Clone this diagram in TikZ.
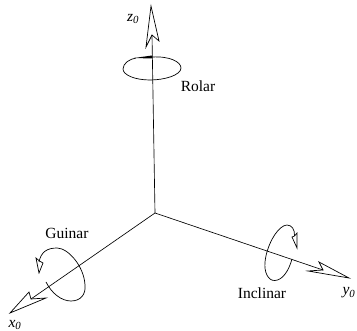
\documentclass[tikz,border=0pt]{standalone}
\usepackage{fontspec}
\setmainfont{Liberation Serif}
\newcommand{\axisname}[1]{\textit{#1}\textsubscript{\textit{0}}}
\tikzset{
  axisline/.style={line width=.65pt},
  turnline/.style={line width=.7pt},
  headline/.style={line width=.7pt,line join=miter},
  txt/.style={inner sep=0pt,font=\fontsize{15.5}{17}\selectfont},
  axistxt/.style={inner sep=0pt,font=\fontsize{15.5}{17}\selectfont},
}
\begin{document}
\begin{tikzpicture}[x=1pt,y=-1pt]
\useasboundingbox (0,0) rectangle (357,331);
\coordinate (o) at (155,213);
\coordinate (zn) at (152,35);
\coordinate (xn) at (31,299);
\coordinate (yn) at (323,270);
\draw[axisline] (o)--(zn);
\draw[axisline] (o)--(xn);
\draw[axisline] (o)--(yn);
% arrow heads
\draw[headline] (zn)--(146,47)--(151,6)--(159,41)--cycle;
\draw[headline] (xn)--(29,292)--(10,313)--(46,298)--cycle;
\draw[headline] (yn)--(319,262)--(349,278)--(308,271)--cycle;
% rotations
\draw[turnline] (152,57) .. controls (170,56) and (181,62) .. (181,68)
                  .. controls (181,75) and (165,80) .. (150,80)
                  .. controls (135,80) and (123,75) .. (123,69)
                  .. controls (123,63) and (130,59) .. (136,58);
\fill (134,58)--(152,55.5)--(152,58.5)--cycle;
\draw[turnline] (46,282) .. controls (52,294) and (62,301) .. (71,301)
                  .. controls (81,301) and (86,294) .. (85,285)
                  .. controls (84,266) and (68,248) .. (57,248)
                  .. controls (47,248) and (41,252) .. (39,262);
\draw[headline] (39,273)--(36,258)--(39.5,261)--(43,263)--cycle;
\draw[turnline] (292,259) .. controls (289,270) and (283,280) .. (275,280.5)
                  .. controls (268,281) and (264,272) .. (265,262)
                  .. controls (267,243) and (279,225) .. (287,225)
                  .. controls (292,225) and (295,230) .. (294.5,236);
\draw[headline] (297,248)--(292,237)--(294.5,236)--(297,233)--cycle;
% labels
\node[axistxt] (zlabel) at (133,19) {\axisname{z}};
\node[axistxt] (xlabel) at (15,325) {\axisname{x}};
\node[axistxt] (ylabel) at (349,293) {\axisname{y}};
\node[txt] (rolar) at (198,86) {Rolar};
\node[txt] (guinar) at (67,233) {Guinar};
\node[txt] (inclinar) at (262,293) {Inclinar};
\end{tikzpicture}
\end{document}
